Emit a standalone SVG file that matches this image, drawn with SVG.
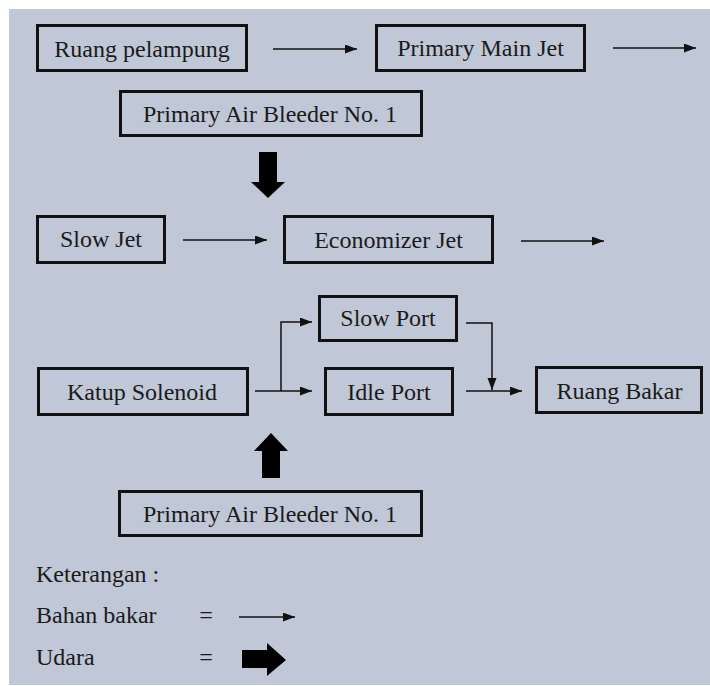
<svg xmlns="http://www.w3.org/2000/svg" width="710" height="686" viewBox="0 0 710 686">
  <defs>
    <marker id="ah" markerUnits="userSpaceOnUse" markerWidth="12" markerHeight="10" refX="12" refY="4.5" orient="auto">
      <path d="M0,0 L12,4.5 L0,9 z" fill="#111"/>
    </marker>
    <style>
      .box { fill: none; stroke: #111; stroke-width: 3; }
      .t { font-family: "Liberation Serif", "Times New Roman", serif; font-size: 24px; fill: #1a1a1a; }
      .c { text-anchor: middle; }
      .ln { fill: none; stroke: #111; stroke-width: 1.5; }
      .thick { fill: #000; }
    </style>
  </defs>
  <rect width="710" height="686" fill="#ffffff"/>
  <rect x="9" y="9" width="701" height="676" fill="#c0c7d7"/>

  <g id="ruang-pelampung">
    <rect class="box" x="37.5" y="25.5" width="209" height="45"/>
    <text class="t c" x="142" y="57">Ruang pelampung</text>
  </g>
  <g id="primary-main-jet">
    <rect class="box" x="376.5" y="25.5" width="208" height="45"/>
    <text class="t c" x="480.5" y="56">Primary Main Jet</text>
  </g>
  <g id="primary-air-bleeder-top">
    <rect class="box" x="120.5" y="91.5" width="301" height="44"/>
    <text class="t c" x="270" y="122">Primary Air Bleeder No. 1</text>
  </g>
  <g id="slow-jet">
    <rect class="box" x="37.5" y="216.5" width="127" height="46"/>
    <text class="t c" x="101" y="247">Slow Jet</text>
  </g>
  <g id="economizer-jet">
    <rect class="box" x="284.5" y="216.5" width="208" height="46"/>
    <text class="t c" x="388.5" y="248">Economizer Jet</text>
  </g>
  <g id="slow-port">
    <rect class="box" x="319.5" y="296.5" width="137" height="44"/>
    <text class="t c" x="388" y="326">Slow Port</text>
  </g>
  <g id="idle-port">
    <rect class="box" x="325.5" y="368.5" width="127" height="46"/>
    <text class="t c" x="389" y="400">Idle Port</text>
  </g>
  <g id="katup-solenoid">
    <rect class="box" x="38.5" y="368.5" width="209" height="46"/>
    <text class="t c" x="142" y="400">Katup Solenoid</text>
  </g>
  <g id="ruang-bakar">
    <rect class="box" x="536.5" y="367.5" width="165" height="45"/>
    <text class="t c" x="619.5" y="399">Ruang Bakar</text>
  </g>
  <g id="primary-air-bleeder-bottom">
    <rect class="box" x="119.5" y="491.5" width="302" height="44"/>
    <text class="t c" x="270" y="522">Primary Air Bleeder No. 1</text>
  </g>

  <g id="connectors">
    <line class="ln" x1="273" y1="49" x2="357" y2="49" marker-end="url(#ah)"/>
    <line class="ln" x1="613" y1="48" x2="696" y2="48" marker-end="url(#ah)"/>
    <line class="ln" x1="183" y1="240" x2="267" y2="240" marker-end="url(#ah)"/>
    <line class="ln" x1="521" y1="241" x2="604" y2="241" marker-end="url(#ah)"/>
    <line class="ln" x1="255" y1="391" x2="312" y2="391" marker-end="url(#ah)"/>
    <polyline class="ln" points="281,391 281,322 312,322" marker-end="url(#ah)"/>
    <polyline class="ln" points="466,323 492,323 492,390" marker-end="url(#ah)"/>
    <line class="ln" x1="466" y1="391" x2="522" y2="391" marker-end="url(#ah)"/>
    <polygon class="thick" points="259,152 277,152 277,182 285,182 268,198 251,182 259,182"/>
    <polygon class="thick" points="271,433 288,451 280,451 280,478 262,478 262,451 254,451"/>
  </g>

  <g id="legend">
    <text class="t" x="36" y="582">Keterangan :</text>
    <text class="t" x="36" y="623">Bahan bakar</text>
    <text class="t c" x="206" y="623">=</text>
    <line class="ln" x1="239" y1="617" x2="295" y2="617" marker-end="url(#ah)"/>
    <text class="t" x="36" y="665">Udara</text>
    <text class="t c" x="206" y="665">=</text>
    <polygon class="thick" points="242,650 267,650 267,643 286,660 267,676 267,668 242,668"/>
  </g>
</svg>
